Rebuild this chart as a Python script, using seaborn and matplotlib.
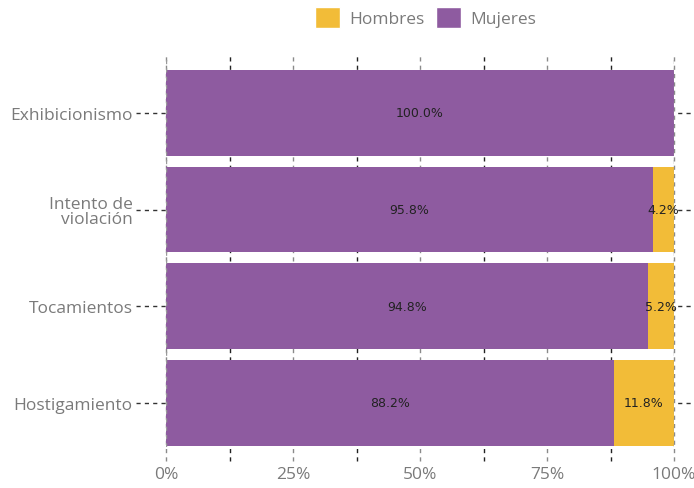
import matplotlib
matplotlib.use("Agg")
import matplotlib.pyplot as plt
import seaborn as sns
import pandas as pd
from matplotlib.patches import Patch

categorias = ["Exhibicionismo", "Intento de\nviolación", "Tocamientos", "Hostigamiento"]
mujeres = [100.0, 95.8, 94.8, 88.2]
hombres = [0.0, 4.2, 5.2, 11.8]
ticks_x = [0, 25, 50, 75, 100]
etiquetas_x = ["0%", "25%", "50%", "75%", "100%"]

color_mujeres = "#8E5BA0"
color_hombres = "#F2BC38"
gris = "#7a7a7a"

sns.set_theme(style="white")
plt.rcParams["font.family"] = ["Open Sans", "DejaVu Sans"]

df = pd.DataFrame({
    "categoria": categorias,
    "Mujeres": mujeres,
    "Hombres": hombres,
})
df["total"] = df["Mujeres"] + df["Hombres"]

fig = plt.figure(figsize=(6.94, 4.89), dpi=100)
ax = fig.add_axes([0.2392, 0.0838, 0.7320, 0.7996])

# stacked bars: total in yellow underneath, women in purple on top
sns.barplot(data=df, y="categoria", x="total", color=color_hombres, orient="h",
            width=0.89, ax=ax, saturation=1, zorder=3, linewidth=0, edgecolor="none")
sns.barplot(data=df, y="categoria", x="Mujeres", color=color_mujeres, orient="h",
            width=0.89, ax=ax, saturation=1, zorder=3, linewidth=0, edgecolor="none")

ax.set_xlim(0, 100)
ax.set_ylim(3.46, -0.59)
ax.set_xlabel("")
ax.set_ylabel("")

# vertical dashed grid, extending below the axes as tick marks
for i in range(9):
    xv = i * 12.5
    major = i % 2 == 0
    ax.axvline(xv, ymin=-0.036, ymax=1.0, color="#8a8a8a" if major else "#222222",
               linestyle=(0, (3, 3)), linewidth=1.0, zorder=1, clip_on=False)
# dashed outer frame lines at 0% and 100% drawn over the bars
for xv in (0, 100):
    ax.axvline(xv, color="#9a9a9a", linestyle=(0, (3, 3)), linewidth=1.0, zorder=4)

# horizontal dashed lines at category centres
for j in range(len(categorias)):
    ax.plot([-6, 104], [j, j], color="#333333", linestyle=(0, (3, 3)),
            linewidth=1.0, zorder=1, clip_on=False)

for s in ax.spines.values():
    s.set_visible(False)

ax.set_xticks(ticks_x)
ax.set_xticklabels(etiquetas_x)
ax.tick_params(axis="x", length=0, pad=14, labelsize=12.5, labelcolor=gris)
ax.tick_params(axis="y", length=0, pad=24, labelsize=12.5, labelcolor=gris)
for lab in ax.get_yticklabels():
    lab.set_linespacing(0.95)

# value labels
for j in range(len(categorias)):
    m = mujeres[j]
    h = hombres[j]
    ax.text(m / 2, j, f"{m:.1f}%", ha="center", va="center", fontsize=9,
            color="#222222", family="DejaVu Sans", zorder=5)
    if h > 0:
        ax.text(m + h / 2, j, f"{h:.1f}%", ha="center", va="center", fontsize=9,
                color="#222222", family="DejaVu Sans", zorder=5)

handles = [Patch(facecolor=color_hombres, label="Hombres"),
           Patch(facecolor=color_mujeres, label="Mujeres")]
leg = fig.legend(handles=handles, loc="center", bbox_to_anchor=(0.613, 0.962), ncol=2,
                 frameon=False, fontsize=12.5, handlelength=1.45, handleheight=1.45,
                 handletextpad=0.5, columnspacing=0.7)
for t in leg.get_texts():
    t.set_color(gris)

fig.savefig("out.png", dpi=100)
